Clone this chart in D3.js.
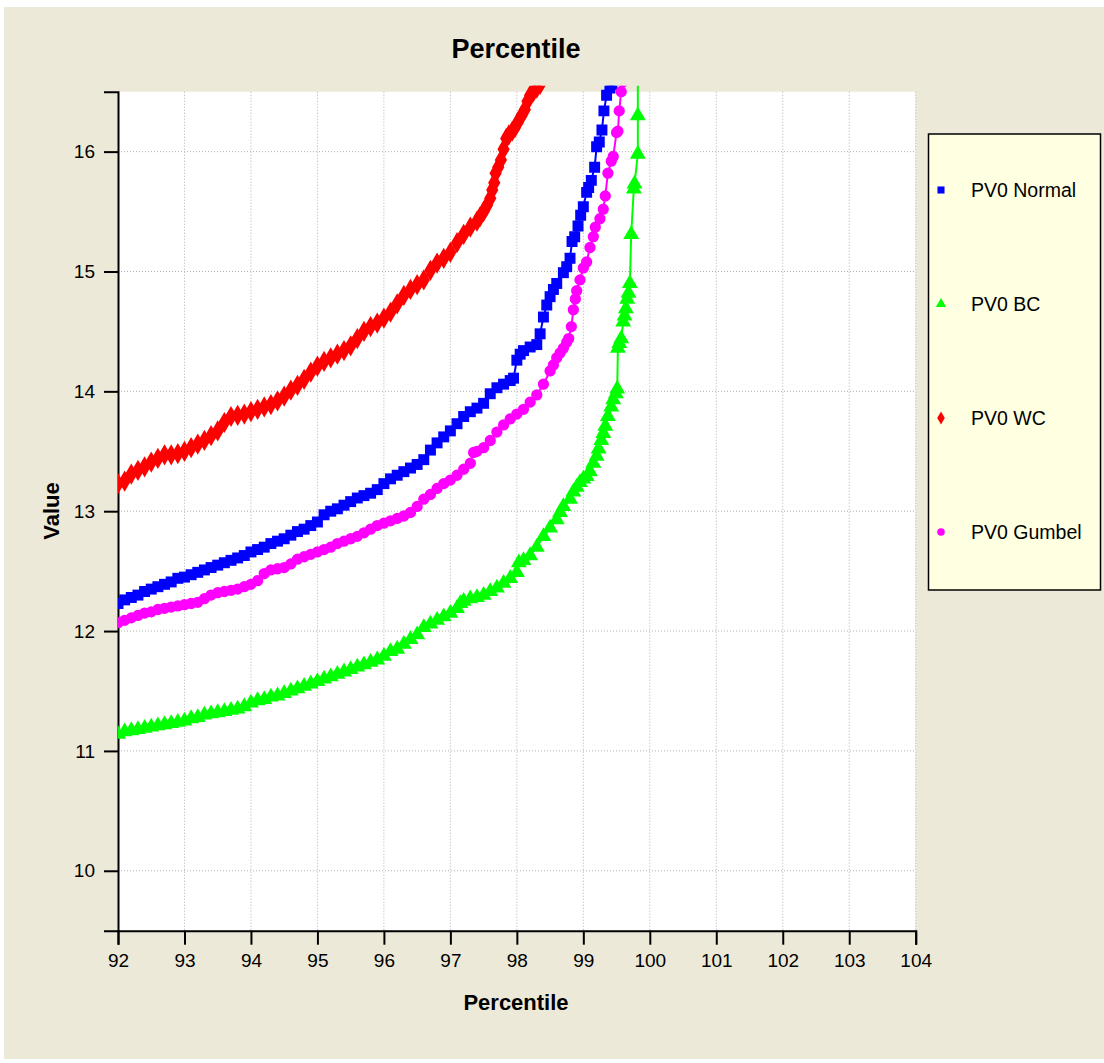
<!DOCTYPE html>
<html>
<head>
<meta charset="utf-8">
<script src="https://cdn.jsdelivr.net/npm/d3@7"></script>
<style>
  body { margin: 0; background: #fff; }
  text { font-family: "Liberation Sans", Arial, sans-serif; }
</style>
</head>
<body>
<svg id="chart" width="1104" height="1063"></svg>
<script>
// percentile / value pairs
const normal = [
  [92.0,12.23],[92.1,12.26],[92.2,12.28],[92.3,12.30],[92.4,12.33],[92.5,12.35],[92.6,12.37],[92.7,12.39],[92.8,12.41],[92.9,12.44],
  [93.0,12.45],[93.1,12.47],[93.2,12.49],[93.3,12.51],[93.4,12.53],[93.5,12.55],[93.6,12.57],[93.7,12.59],[93.8,12.61],[93.9,12.63],
  [94.0,12.66],[94.1,12.68],[94.2,12.70],[94.3,12.73],[94.4,12.75],[94.5,12.77],[94.6,12.80],[94.7,12.83],[94.8,12.85],[94.9,12.88],
  [95.0,12.91],[95.1,12.97],[95.2,13.00],[95.3,13.02],[95.4,13.05],[95.5,13.08],[95.6,13.11],[95.7,13.13],[95.8,13.15],[95.9,13.18],
  [96.0,13.23],[96.1,13.27],[96.2,13.30],[96.3,13.33],[96.4,13.36],[96.5,13.39],[96.6,13.43],[96.7,13.51],[96.8,13.57],[96.9,13.62],
  [97.0,13.67],[97.1,13.73],[97.2,13.79],[97.3,13.83],[97.4,13.86],[97.5,13.90],[97.6,13.98],[97.7,14.03],[97.8,14.06],[97.9,14.09],
  [97.95,14.11],[98.0,14.26],[98.05,14.31],[98.1,14.34],[98.2,14.37],[98.3,14.39],[98.35,14.48],[98.4,14.62],[98.45,14.72],[98.5,14.79],
  [98.55,14.85],[98.6,14.90],[98.7,14.99],[98.75,15.04],[98.8,15.11],[98.83,15.25],[98.87,15.29],[98.92,15.38],[98.96,15.47],[99.0,15.54],
  [99.05,15.66],[99.08,15.70],[99.12,15.76],[99.17,15.87],[99.2,16.04],[99.24,16.08],[99.28,16.18],[99.31,16.34],[99.35,16.47],[99.4,16.53],
  [99.43,16.56]
]

const bc = [
  [92.0,11.14],[92.1,11.16],[92.2,11.17],[92.3,11.18],[92.4,11.19],[92.5,11.20],[92.6,11.21],[92.7,11.22],[92.8,11.23],[92.9,11.24],
  [93.0,11.25],[93.1,11.27],[93.2,11.28],[93.3,11.30],[93.4,11.31],[93.5,11.32],[93.6,11.33],[93.7,11.34],[93.8,11.35],[93.9,11.37],
  [94.0,11.40],[94.1,11.42],[94.2,11.43],[94.3,11.45],[94.4,11.46],[94.5,11.48],[94.6,11.50],[94.7,11.52],[94.8,11.54],[94.9,11.56],
  [95.0,11.58],[95.1,11.60],[95.2,11.62],[95.3,11.64],[95.4,11.66],[95.5,11.68],[95.6,11.70],[95.7,11.72],[95.8,11.74],[95.9,11.76],
  [96.0,11.79],[96.1,11.83],[96.2,11.85],[96.3,11.89],[96.4,11.93],[96.5,11.97],[96.6,12.03],[96.7,12.06],[96.8,12.09],[96.9,12.12],
  [97.0,12.15],[97.1,12.19],[97.15,12.23],[97.2,12.25],[97.3,12.27],[97.4,12.28],[97.5,12.30],[97.6,12.33],[97.7,12.36],[97.8,12.40],
  [97.9,12.44],[98.0,12.49],[98.03,12.57],[98.1,12.59],[98.2,12.63],[98.3,12.70],[98.4,12.79],[98.5,12.86],[98.6,12.93],[98.65,12.99],
  [98.7,13.04],[98.8,13.10],[98.85,13.16],[98.9,13.20],[98.95,13.24],[99.0,13.27],[99.05,13.29],[99.1,13.33],[99.15,13.40],[99.2,13.46],
  [99.23,13.52],[99.27,13.59],[99.3,13.65],[99.33,13.71],[99.37,13.79],[99.42,13.87],[99.45,13.93],[99.49,13.98],[99.51,14.02],[99.52,14.36],
  [99.54,14.40],[99.57,14.44],[99.6,14.58],[99.62,14.63],[99.64,14.69],[99.66,14.77],[99.68,14.82],[99.7,14.90],[99.72,15.31],[99.76,15.69],
  [99.77,15.73],[99.82,15.98],[99.82,16.30],[99.82,17.0]
]

const wc = [
  [92.0,13.23],[92.1,13.25],[92.2,13.31],[92.3,13.34],[92.4,13.37],[92.5,13.41],[92.6,13.44],[92.7,13.47],[92.8,13.47],[92.9,13.48],
  [93.0,13.50],[93.1,13.53],[93.2,13.56],[93.3,13.59],[93.4,13.63],[93.5,13.67],[93.6,13.74],[93.7,13.79],[93.8,13.80],[93.9,13.81],
  [94.0,13.83],[94.1,13.85],[94.2,13.87],[94.3,13.89],[94.4,13.92],[94.5,13.96],[94.6,14.01],[94.7,14.05],[94.8,14.10],[94.9,14.16],
  [95.0,14.21],[95.1,14.25],[95.2,14.28],[95.3,14.31],[95.4,14.34],[95.5,14.38],[95.6,14.44],[95.7,14.50],[95.8,14.54],[95.9,14.57],
  [96.0,14.61],[96.1,14.66],[96.2,14.73],[96.3,14.80],[96.4,14.85],[96.5,14.89],[96.6,14.93],[96.7,15.01],[96.8,15.07],[96.9,15.11],
  [97.0,15.16],[97.1,15.24],[97.2,15.31],[97.3,15.37],[97.4,15.42],[97.45,15.46],[97.5,15.50],[97.55,15.55],[97.6,15.61],[97.63,15.68],
  [97.66,15.74],[97.68,15.82],[97.72,15.87],[97.76,15.93],[97.8,16.02],[97.84,16.11],[97.88,16.14],[97.93,16.17],[97.97,16.20],[98.02,16.25],
  [98.07,16.30],[98.12,16.35],[98.16,16.42],[98.2,16.47],[98.25,16.50],[98.3,16.53],[98.35,16.56]
]

const gumbel = [
  [92.0,12.07],[92.1,12.09],[92.2,12.11],[92.3,12.13],[92.4,12.15],[92.5,12.16],[92.6,12.18],[92.7,12.19],[92.8,12.20],[92.9,12.21],
  [93.0,12.22],[93.1,12.23],[93.2,12.24],[93.3,12.27],[93.4,12.30],[93.5,12.32],[93.6,12.33],[93.7,12.34],[93.8,12.35],[93.9,12.37],
  [94.0,12.39],[94.1,12.42],[94.2,12.48],[94.3,12.51],[94.4,12.52],[94.5,12.53],[94.6,12.56],[94.7,12.60],[94.8,12.62],[94.9,12.64],
  [95.0,12.66],[95.1,12.68],[95.2,12.70],[95.3,12.73],[95.4,12.75],[95.5,12.77],[95.6,12.79],[95.7,12.82],[95.8,12.85],[95.9,12.88],
  [96.0,12.90],[96.1,12.92],[96.2,12.94],[96.3,12.96],[96.4,12.99],[96.5,13.04],[96.6,13.10],[96.7,13.14],[96.8,13.19],[96.9,13.23],
  [97.0,13.26],[97.1,13.30],[97.2,13.35],[97.3,13.40],[97.35,13.49],[97.4,13.50],[97.5,13.53],[97.6,13.59],[97.7,13.66],[97.8,13.72],
  [97.9,13.77],[98.0,13.81],[98.1,13.85],[98.2,13.91],[98.3,13.97],[98.4,14.06],[98.5,14.17],[98.55,14.22],[98.6,14.28],[98.65,14.32],
  [98.7,14.36],[98.75,14.41],[98.78,14.44],[98.82,14.54],[98.85,14.68],[98.88,14.77],[98.9,14.84],[98.95,14.93],[99.0,15.03],[99.05,15.08],
  [99.1,15.20],[99.15,15.29],[99.18,15.37],[99.25,15.44],[99.3,15.52],[99.33,15.63],[99.37,15.82],[99.42,15.92],[99.45,15.96],[99.5,16.16],
  [99.52,16.17],[99.54,16.34],[99.57,16.50],[99.59,16.58]
]

const seriesNames = ['PV0 Normal', 'PV0 BC', 'PV0 WC', 'PV0 Gumbel']
const xTicks = [92, 93, 94, 95, 96, 97, 98, 99, 100, 101, 102, 103, 104]
const yTicks = [10, 11, 12, 13, 14, 15, 16]

const series = [
  { name: seriesNames[0], values: normal, color: '#0000ff', symbol: d3.symbolSquare, size: 120, legendSize: 50 },
  { name: seriesNames[1], values: bc, color: '#00ff00', symbol: d3.symbolTriangle, size: 110, legendSize: 45 },
  { name: seriesNames[2], values: wc, color: '#ff0000', symbol: d3.symbolDiamond, size: 130, legendSize: 50 },
  { name: seriesNames[3], values: gumbel, color: '#ff00ff', symbol: d3.symbolCircle, size: 100, legendSize: 45 }
]

const svg = d3.select('#chart')
const plotLeft = 118, plotRight = 915.7, plotTop = 91.7, plotBottom = 930.7

// background
svg.append('rect')
  .attr('x', 4).attr('y', 7).attr('width', 1100).attr('height', 1052)
  .attr('fill', '#ece9d8')
svg.append('rect')
  .attr('x', plotLeft).attr('y', plotTop)
  .attr('width', plotRight - plotLeft).attr('height', plotBottom - plotTop)
  .attr('fill', '#fff')

const x = d3.scaleLinear().domain([92, 104]).range([plotLeft, plotRight])
const y = d3.scaleLinear().domain([9.5, 16.5]).range([plotBottom, plotTop])

// dotted grid
svg.append('g')
  .selectAll('line')
  .data(xTicks.slice(1))
  .enter()
  .append('line')
    .attr('x1', d => x(d)).attr('x2', d => x(d))
    .attr('y1', plotTop).attr('y2', plotBottom)
svg.append('g')
  .selectAll('line')
  .data(yTicks)
  .enter()
  .append('line')
    .attr('x1', plotLeft).attr('x2', plotRight)
    .attr('y1', d => y(d)).attr('y2', d => y(d))
svg.selectAll('g line')
  .attr('stroke', '#b0b0b0')
  .attr('stroke-width', 1)
  .attr('stroke-dasharray', '1,2')

// axes
const xAxis = d3.axisBottom(x).tickValues(xTicks).tickFormat(d3.format('d'))
  .tickSizeOuter(0).tickSize(14).tickPadding(9)
const yAxis = d3.axisLeft(y).tickValues(yTicks).tickFormat(d3.format('d'))
  .tickSizeOuter(0).tickSize(14).tickPadding(9)

svg.append('g')
  .attr('transform', `translate(0, ${plotBottom})`)
  .call(xAxis)
svg.append('g')
  .attr('transform', `translate(${plotLeft}, 0)`)
  .call(yAxis)

svg.selectAll('.domain, .tick line')
  .attr('stroke', '#000')
  .attr('stroke-width', 2)
svg.selectAll('.tick text')
  .attr('fill', '#000')
  .style('font-size', '19px')
  .style('font-family', '"Liberation Sans", Arial, sans-serif')

// titles
svg.append('text')
  .attr('x', 516).attr('y', 58)
  .attr('text-anchor', 'middle')
  .style('font-size', '27px').style('font-weight', 'bold')
  .text('Percentile')
svg.append('text')
  .attr('x', 516).attr('y', 1010)
  .attr('text-anchor', 'middle')
  .style('font-size', '22px').style('font-weight', 'bold')
  .text('Percentile')
svg.append('text')
  .attr('transform', 'translate(59, 511) rotate(-90)')
  .attr('text-anchor', 'middle')
  .style('font-size', '22px').style('font-weight', 'bold')
  .text('Value')

// series
svg.append('clipPath').attr('id', 'plotclip')
  .append('rect')
  .attr('x', plotLeft).attr('y', plotTop - 6)
  .attr('width', plotRight - plotLeft).attr('height', plotBottom - plotTop + 6)

const plot = svg.append('g').attr('clip-path', 'url(#plotclip)')
const line = d3.line().x(d => x(d[0])).y(d => y(d[1]))

series.forEach(s => {
  plot.append('path')
    .datum(s.values)
    .attr('d', line)
    .attr('fill', 'none')
    .attr('stroke', s.color)
    .attr('stroke-width', 2)
  plot.selectAll(null)
    .data(s.values)
    .enter()
    .append('path')
      .attr('transform', d => `translate(${x(d[0])}, ${y(d[1])})`)
      .attr('d', d3.symbol().type(s.symbol).size(s.size))
      .attr('fill', s.color)
})

// legend
svg.append('rect')
  .attr('x', 928.5).attr('y', 134).attr('width', 172).attr('height', 456)
  .attr('fill', '#ffffe1')
  .attr('stroke', '#000')
  .attr('stroke-width', 1.5)

const legendY = d3.scalePoint().domain(seriesNames).range([190, 532])
const legend = svg.selectAll('g.legend')
  .data(series)
  .enter()
  .append('g')
    .attr('class', 'legend')
    .attr('transform', d => `translate(941, ${legendY(d.name)})`)
legend.append('path')
  .attr('d', d => d3.symbol().type(d.symbol).size(d.legendSize)())
  .attr('fill', d => d.color)
legend.append('text')
  .attr('x', 30).attr('y', 7)
  .style('font-size', '19.5px')
  .text(d => d.name)
</script>
</body>
</html>
